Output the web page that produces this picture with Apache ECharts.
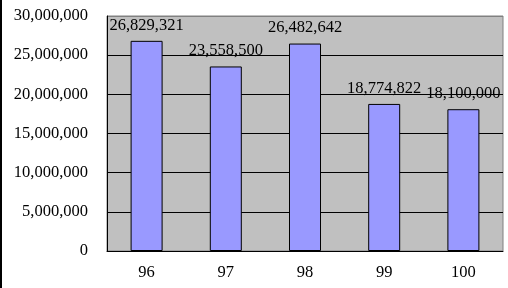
<!DOCTYPE html>
<html>
<head>
<meta charset="UTF-8">
<title>chart</title>
<script src="https://cdn.jsdelivr.net/npm/echarts@6.0.0/dist/echarts.min.js"></script>
<style>
    html, body { margin: 0; padding: 0; background: #fff; }
    #chart { width: 508px; height: 288px; position: relative; }
    #edge { position: absolute; left: 0; top: 0; width: 2px; height: 288px; background: #000; }
</style>
</head>
<body>
<div id="chart"></div>
<div id="edge"></div>
<script>
// 年度 / 金額
const years = ['96', '97', '98', '99', '100'];
const amounts = [26829321, 23558500, 26482642, 18774822, 18100000];
const yMax = 30000000;
const yStep = 5000000;

const serif = '"Liberation Serif", "Times New Roman", serif';

function fmt(v) {
    return Number(v).toLocaleString('en-US');
}

const chart = echarts.init(document.getElementById('chart'));

chart.setOption({
    animation: false,
    backgroundColor: '#fff',
    grid: {
        left: 107,
        right: 5,
        top: 16,
        bottom: 37,
        show: true,
        backgroundColor: '#c0c0c0',
        borderColor: '#808080',
        borderWidth: 1
    },
    xAxis: {
        type: 'category',
        data: years,
        axisLine: { lineStyle: { color: '#000', width: 1 } },
        axisTick: { inside: true, length: 5, lineStyle: { color: '#000' } },
        axisLabel: { color: '#000', fontFamily: serif, fontSize: 16.5, margin: 13 }
    },
    yAxis: {
        type: 'value',
        min: 0,
        max: yMax,
        interval: yStep,
        axisLine: { show: true, lineStyle: { color: '#000', width: 1 } },
        axisTick: { show: false },
        axisLabel: {
            color: '#000', fontFamily: serif, fontSize: 16.5, margin: 19,
            formatter: fmt
        },
        splitLine: {
            lineStyle: {
                color: ['#000', '#000', '#000', '#000', '#000', '#000', '#808080'],
                width: 1
            }
        }
    },
    series: [{
        type: 'bar',
        data: amounts,
        barWidth: 32,
        itemStyle: { color: '#9999ff', borderColor: '#000', borderWidth: 1 },
        label: {
            show: true,
            position: 'top',
            distance: 7,
            color: '#000',
            fontFamily: serif,
            fontSize: 16.5,
            formatter: p => fmt(p.value)
        }
    }]
});
</script>
</body>
</html>
